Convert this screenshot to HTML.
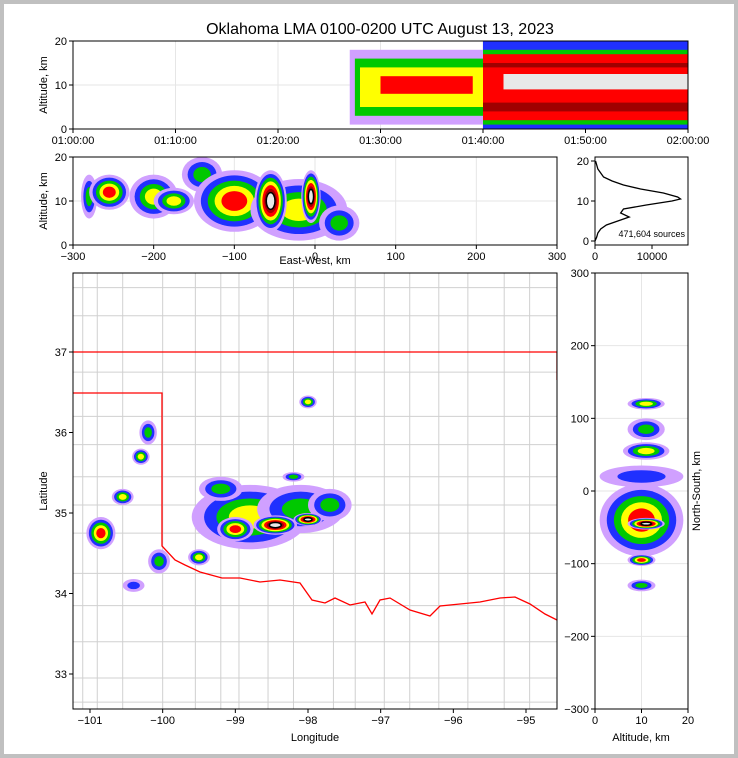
<!DOCTYPE html>
<html><head><meta charset="utf-8"><style>
body{margin:0;background:#fff}
svg{display:block;font-family:"Liberation Sans","DejaVu Sans",sans-serif}
</style></head><body>
<svg id="c" width="738" height="758" xmlns="http://www.w3.org/2000/svg">
<rect x="0" y="0" width="738" height="758" fill="#c0c0c0"/>
<rect x="4" y="4" width="730" height="750" fill="#fff"/>
<text x="380" y="34" font-size="16" text-anchor="middle">Oklahoma LMA 0100-0200 UTC August 13, 2023</text>
<g id="g"></g>
</svg>
<script>
// ---- data ----
const levelColors=['#d0a0ff','#2030ff','#00c800','#ffff00','#ff0000','#a00000','#e8e8e8'];
// time-height layers
const thStart=[27,27.5,28,30,40,40,40,40,40,42];
const thEnd=[40,40,40,39,60,60,60,60,60,60];
const thLo=[1,3,5,8,0,1,2,4,6,9];
const thHi=[18,16,14,12,20,18,17,15,14,12.5];
const thLevel=[1,3,4,5,2,3,5,6,5,7];
// east-west vs altitude clusters
const ewX=[-280,-255,-200,-175,-140,-100,-20,30,-55,-5];
const ewAlt=[11,12,11,10,16,10,8,5,10,11];
const ewRx=[10,25,30,25,25,50,60,25,20,12];
const ewRy=[5,4,5,3,4,7,7,4,7,6];
const ewLevel=[3,5,4,4,3,5,4,3,7,7];
// altitude histogram
const histAlt=[20,19,18,16,15,14,13,12,11,10.5,10,9,8,7,6,5,4,3,2,1,0];
const histCount=[100,300,500,1500,3000,5000,8000,12000,14500,15000,13500,9000,5000,4500,6000,4000,2000,1000,500,300,0];
// map clusters
const mapLon=[-98.0,-100.2,-100.3,-100.55,-100.85,-100.05,-100.4,-98.8,-98.1,-99.2,-97.7,-99.5,-98.2,-99.0,-98.45,-98.0];
const mapLat=[36.38,36.0,35.7,35.2,34.75,34.4,34.1,34.95,35.05,35.3,35.1,34.45,35.45,34.8,34.85,34.92];
const mapRx=[.12,.12,.12,.15,.2,.15,.15,.8,.6,.3,.3,.15,.15,.25,.3,.2];
const mapRy=[.08,.15,.1,.1,.2,.15,.08,.4,.3,.15,.2,.1,.06,.15,.12,.08];
const mapLevel=[4,3,4,4,5,3,2,4,3,3,3,4,3,5,7,7];
// north-south vs altitude clusters
const nsAlt=[11,11,11,10,10,11,10,10];
const nsY=[120,85,55,20,-40,-45,-95,-130];
const nsRa=[4,4,5,9,9,4,3,3];
const nsRy=[8,15,12,15,50,8,8,8];
const nsLevel=[4,3,4,2,5,7,5,3];

const NS='http://www.w3.org/2000/svg';
const G=document.getElementById('g');
function el(t,a,p){const e=document.createElementNS(NS,t);for(const k in a)e.setAttribute(k,a[k]);(p||G).appendChild(e);return e;}
function lin(d0,d1,r0,r1){return v=>r0+(v-d0)*(r1-r0)/(d1-d0);}
function blob(p,cx,cy,rx,ry,L){
 for(let k=1;k<=L;k++){const f=1-(k-1)/L*0.85;
  const e=el('ellipse',{cx:cx,cy:cy,rx:Math.max(1,rx*f),ry:Math.max(1,ry*f),fill:levelColors[k-1],stroke:k==7?'#000':'none','stroke-width':1.5},p);
  
  }
}
function frame(x,y,w,h,name){const e=el('rect',{x:x,y:y,width:w,height:h,fill:'none',stroke:'#000','stroke-width':1});
 }
function txt(x,y,s,size,anchor,name,rot){const e=el('text',{x:x,y:y,'font-size':size,'text-anchor':anchor||'middle'});e.textContent=s;
 if(rot)e.setAttribute('transform','rotate(-90 '+x+' '+y+')');
 return e;}
function clip(id,x,y,w,h){const c=el('clipPath',{id:id});el('rect',{x:x,y:y,width:w,height:h},c);const g=el('g',{'clip-path':'url(#'+id+')'});return g;}
function grid(p,x1,y1,x2,y2){const e=el('line',{x1:x1,y1:y1,x2:x2,y2:y2,stroke:'#e6e6e6','stroke-width':1},p);}
function tickX(x,y,lab,name){el('line',{x1:x,y1:y,x2:x,y2:y+4,stroke:'#000'});txt(x,y+15,lab,11,'middle',name);}
function tickY(x,y,lab,name,right){el('line',{x1:x,y1:y,x2:right?x+4:x-4,y2:y,stroke:'#000'});txt(right?x+8:x-6,y+4,lab,11,right?'start':'end',name);}

// ---- panel 1 time-height ----
{const X=lin(0,60,73,688),Y=lin(0,20,129,41);const p=clip('c1',73,41,615,88);
 for(let t=0;t<=60;t+=10)grid(p,X(t),41,X(t),129);for(let a=0;a<=20;a+=10)grid(p,73,Y(a),688,Y(a));
 for(let i=0;i<thStart.length;i++){const r=el('rect',{x:X(thStart[i]),y:Y(thHi[i]),width:X(thEnd[i])-X(thStart[i]),height:Y(thLo[i])-Y(thHi[i]),fill:levelColors[thLevel[i]-1]},p);
  }
 frame(73,41,615,88,'time-height-frame');
 const labs=['01:00:00','01:10:00','01:20:00','01:30:00','01:40:00','01:50:00','02:00:00'];
 labs.forEach((l,i)=>tickX(X(i*10),129,l,'time-tick-label'));
 [0,10,20].forEach(a=>tickY(73,Y(a),a,'alt-tick-label'));
 txt(47,85,'Altitude, km',11,'middle','time-height-y-title',true);}

// ---- panel 2 EW ----
{const X=lin(-300,300,73,557),Y=lin(0,20,245,157);const p=clip('c2',73,157,484,88);
 for(let v=-300;v<=300;v+=100)grid(p,X(v),157,X(v),245);for(let a=0;a<=20;a+=10)grid(p,73,Y(a),557,Y(a));
 for(let i=0;i<ewX.length;i++)blob(p,X(ewX[i]),Y(ewAlt[i]),ewRx[i]*0.807,ewRy[i]*4.4,ewLevel[i]);
 frame(73,157,484,88,'ew-altitude-frame');
 [-300,-200,-100,0,100,200,300].forEach(v=>tickX(X(v),245,v<0?'−'+(-v):v,'ew-tick-label'));
 [0,10,20].forEach(a=>tickY(73,Y(a),a,'alt-tick-label'));
 txt(47,201,'Altitude, km',11,'middle','ew-y-title',true);
 txt(315,264,'East-West, km',11,'middle','ew-x-title');}

// ---- panel 3 histogram ----
{const X=lin(0,10000,595,652),Y=lin(0,20,241,161);
 let d='';histAlt.forEach((a,i)=>{d+=(i?'L':'M')+X(histCount[i])+' '+Y(a);});
 const pth=el('path',{d:d,fill:'none',stroke:'#000','stroke-width':1.3});
 frame(595,157,93,88,'histogram-frame');
 [0,10000].forEach(v=>tickX(X(v),245,v,'hist-tick-label'));
 [0,10,20].forEach(a=>tickY(595,Y(a),a,'hist-alt-tick'));
 txt(685,237,'471,604 sources',9,'end','source-count');}

// ---- panel 4 map ----
{const X=lin(-101,-95,90,526),Y=lin(37,33,352,674);const p=clip('c4',73,273,484,436);
 const cv=[-100.55,-100.0,-99.55,-99.2,-98.95,-98.55,-98.2,-97.65,-97.35,-96.95,-96.6,-96.2,-95.8,-95.3,-94.95,-100.9,-101.1];
 cv.forEach(v=>{const e=el('line',{x1:X(v),y1:273,x2:X(v),y2:709,stroke:'#d0d0d0','stroke-width':1},p);});
 const ch=[37.8,37.45,36.75,36.2,35.85,35.45,35.1,34.75,34.25,33.85,33.4,32.95,32.65];
 ch.forEach(v=>{const e=el('line',{x1:73,y1:Y(v),x2:557,y2:Y(v),stroke:'#d0d0d0','stroke-width':1},p);});
 for(let i=0;i<mapLon.length;i++)blob(p,X(mapLon[i]),Y(mapLat[i]),mapRx[i]*72.7,mapRy[i]*80.5,mapLevel[i]);
 const b=el('path',{d:'M73 352L557 352M73 393L162 393L162 546L175 560L185 565L200 572L222 578L240 578L260 582L280 580L300 583L312 600L325 603L335 598L350 605L365 602L372 614L380 600L390 598L410 610L430 616L440 606L460 604L480 602L500 598L515 597L530 604L545 614L557 620M557 352L557 380',fill:'none',stroke:'#ff0000','stroke-width':1.3},p);
 
 frame(73,273,484,436,'map-frame');
 [-101,-100,-99,-98,-97,-96,-95].forEach(v=>tickX(X(v),709,'−'+(-v),'lon-tick-label'));
 [37,36,35,34,33].forEach(v=>tickY(73,Y(v),v,'lat-tick-label'));
 txt(47,491,'Latitude',11,'middle','lat-title',true);
 txt(315,741,'Longitude',11,'middle','lon-title');}

// ---- panel 5 NS ----
{const X=lin(0,20,595,688),Y=lin(-300,300,709,273);const p=clip('c5',595,273,93,436);
 for(let a=0;a<=20;a+=10)grid(p,X(a),273,X(a),709);for(let v=-300;v<=300;v+=100)grid(p,595,Y(v),688,Y(v));
 for(let i=0;i<nsAlt.length;i++)blob(p,X(nsAlt[i]),Y(nsY[i]),nsRa[i]*4.65,nsRy[i]*0.727,nsLevel[i]);
 frame(595,273,93,436,'ns-altitude-frame');
 [0,10,20].forEach(a=>tickX(X(a),709,a,'ns-alt-tick'));
 [-300,-200,-100,0,100,200,300].forEach(v=>tickY(595,Y(v),v<0?'−'+(-v):v,'ns-tick-label'));
 txt(700,491,'North-South, km',11,'middle','ns-y-title',true);
 txt(641,741,'Altitude, km',11,'middle','ns-x-title');}
</script>
</body></html>
